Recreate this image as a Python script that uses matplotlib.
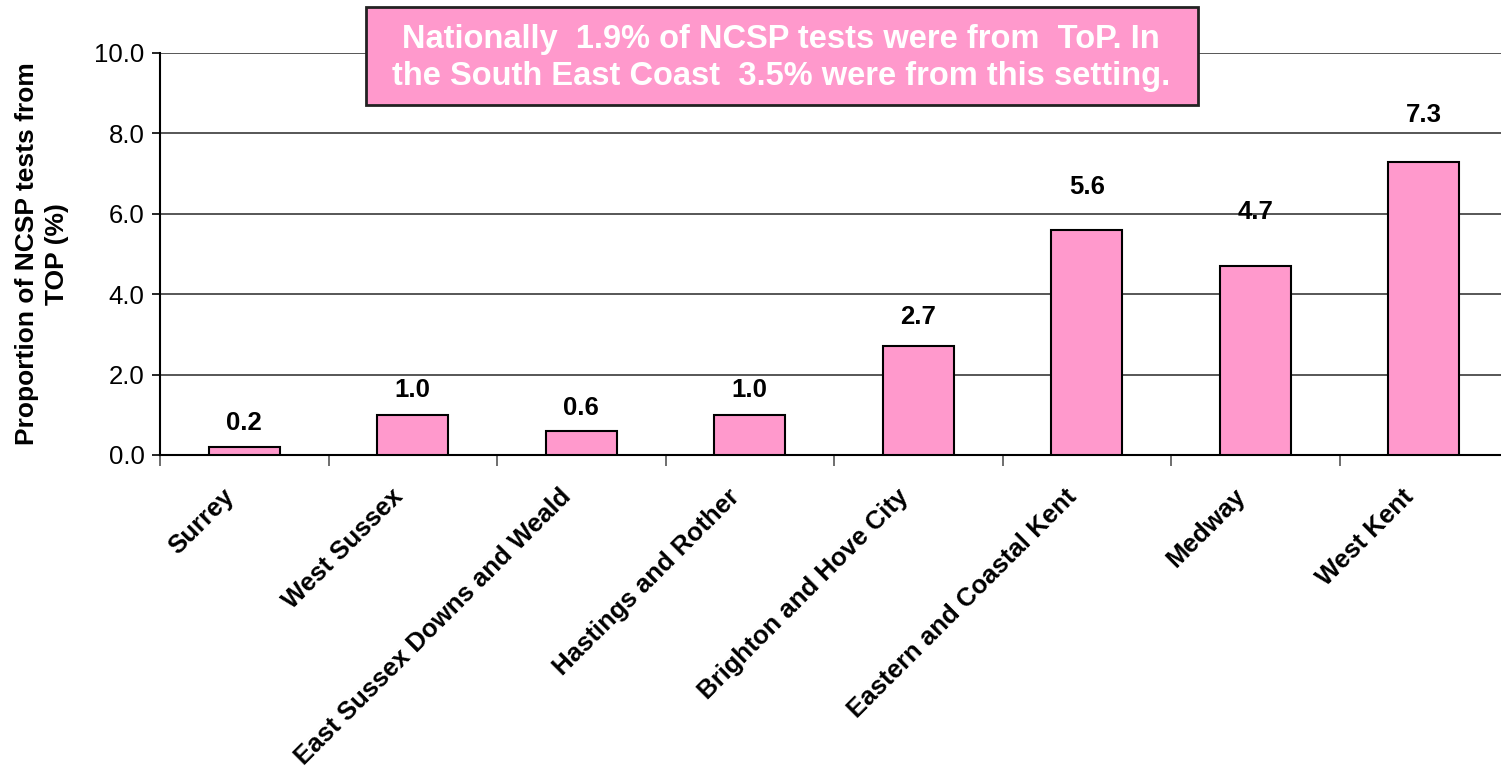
import numpy as np
import matplotlib
matplotlib.use("Agg")
import matplotlib.pyplot as plt
from matplotlib.patches import Rectangle
from matplotlib.transforms import ScaledTranslation

plt.rcParams['font.family'] = ['Liberation Sans', 'DejaVu Sans']

regions = [
    "Surrey",
    "West Sussex",
    "East Sussex Downs and Weald",
    "Hastings and Rother",
    "Brighton and Hove City",
    "Eastern and Coastal Kent",
    "Medway",
    "West Kent",
]
top_pct = [0.2, 1.0, 0.6, 1.0, 2.7, 5.6, 4.7, 7.3]
y_ticks = [0.0, 2.0, 4.0, 6.0, 8.0, 10.0]
note = ("Nationally  1.9% of NCSP tests were from  ToP. In\n"
        "the South East Coast  3.5% were from this setting.")

# distance (px) from bar top up to the centre of its value label
label_lift = [24, 25, 23, 25, 29, 43, 54, 47]

pink = "#FF99CC"

fig = plt.figure(figsize=(15.01, 7.71), dpi=100)
W, H = 1501, 771
ax = fig.add_axes([160 / W, (771 - 455) / H, 1348 / W, 402 / H])

x = np.arange(len(regions))
ax.bar(x, top_pct, width=0.42, color=pink, edgecolor="black", linewidth=1.5, zorder=3)

for xi, v, lift in zip(x, top_pct, label_lift):
    ax.annotate(f"{v:.1f}", (xi, v), xytext=(0, lift * 0.72), textcoords="offset points",
                ha="center", va="center", fontsize=18.5, fontweight="bold")

ax.set_xlim(-0.5, len(regions) - 0.5)
ax.set_ylim(0, 10)
ax.set_yticks(y_ticks)
ax.set_yticklabels([f"{t:.1f}" for t in y_ticks], fontsize=18.5)
ax.yaxis.grid(True, color="#3a3a3a", linewidth=1.2)
ax.set_axisbelow(True)

# category boundaries carry the tick marks, centres carry the names
ax.set_xticks(np.arange(len(regions) + 1) - 0.5)
ax.set_xticklabels([])
ax.set_xticks(x, minor=True)
ax.set_xticklabels(regions, minor=True, rotation=45, ha="right", rotation_mode="anchor",
                   fontsize=18.5, fontweight="bold")
ax.tick_params(axis="x", which="minor", length=0, pad=14)
ax.tick_params(axis="x", which="major", length=8, width=1.2, color="#555555")
ax.tick_params(axis="y", length=6, width=1.2, pad=5)
shift = ScaledTranslation(-22 / 100, -10 / 100, fig.dpi_scale_trans)
for lbl in ax.get_xticklabels(minor=True):
    lbl.set_transform(lbl.get_transform() + shift)

for side in ["top", "right"]:
    ax.spines[side].set_visible(False)
ax.spines["left"].set_linewidth(1.5)
ax.spines["bottom"].set_linewidth(1.5)

ax.set_ylabel("Proportion of NCSP tests from\nTOP (%)", fontsize=19, fontweight="bold",
              labelpad=18, linespacing=1.35)

# note box above the plot
fig.patches.append(Rectangle((366 / W, 1 - 105 / H), 832 / W, 98 / H, transform=fig.transFigure,
                             facecolor=pink, edgecolor="#222222", linewidth=2, zorder=5))
fig.text(781 / W, 1 - 58 / H, note, ha="center", va="center", color="white",
         fontsize=23.5, fontweight="bold", linespacing=1.25, zorder=6)

fig.savefig("out.png", dpi=100)
